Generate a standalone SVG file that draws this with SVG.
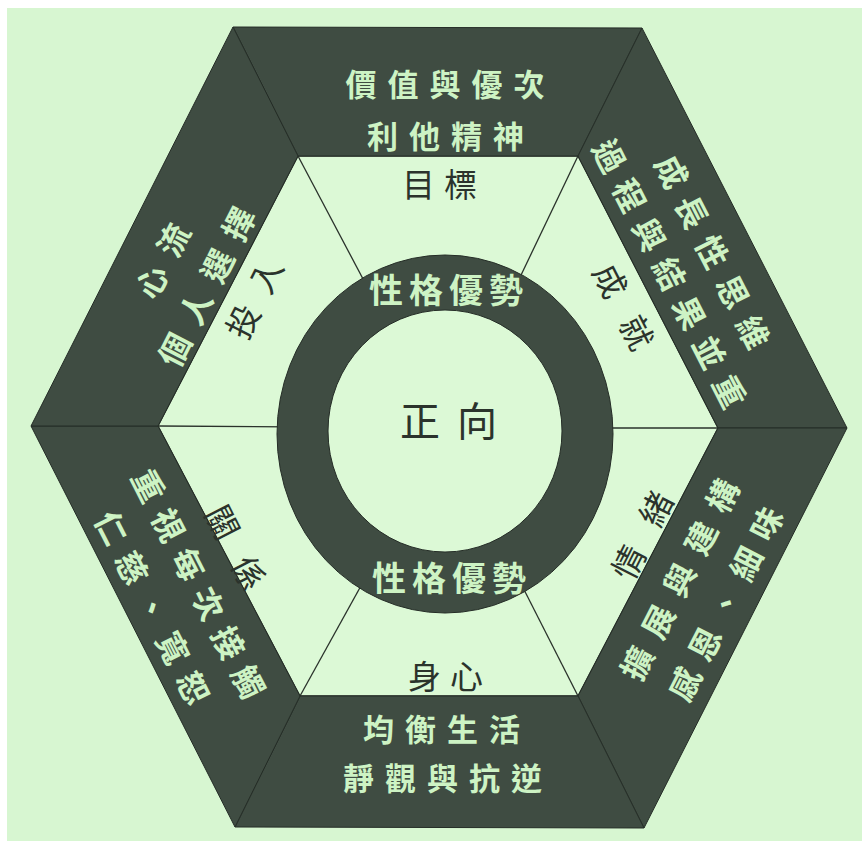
<svg xmlns="http://www.w3.org/2000/svg" width="862" height="843" viewBox="0 0 862 843">
<style>
.band{fill:#3f4c42;stroke:#252d27;stroke-width:1}
.lt{fill:#cdf3c4;font-family:"Noto Sans CJK TC","Noto Sans CJK SC",sans-serif;font-weight:700;text-anchor:middle;dominant-baseline:central}
.dk{fill:#2b332c;font-family:"Noto Sans CJK TC","Noto Sans CJK SC",sans-serif;font-weight:400;text-anchor:middle;dominant-baseline:central}
.ln{stroke:#2a322b;stroke-width:1.3;fill:none}
</style>
<rect x="0" y="0" width="862" height="843" fill="#ffffff"/>
<rect x="7" y="8" width="855" height="833" fill="#d7f6d1"/>
<polygon id="inner-hex" points="298,156 578,156 718,428 578,696 300,696 158,426" fill="#dcf9d6" stroke="#2a322b" stroke-width="1.3"/>
<g id="connectors">
<line class="ln" x1="298" y1="156" x2="445" y2="434"/>
<line class="ln" x1="578" y1="156" x2="445" y2="434"/>
<line class="ln" x1="718" y1="428" x2="445" y2="428"/>
<line class="ln" x1="578" y1="696" x2="445" y2="434"/>
<line class="ln" x1="300" y1="696" x2="445" y2="434"/>
<line class="ln" x1="158" y1="426" x2="445" y2="428"/>
</g>
<g id="band-top">
<polygon class="band" points="233,27 642,28 578,156 298,156"/>
<text class="lt" font-size="31" letter-spacing="11" x="450.5" y="82">價值與優次</text>
<text class="lt" font-size="31" letter-spacing="11" x="451" y="134">利他精神</text>
</g>
<g id="band-top-right">
<polygon class="band" points="642,28 847,428 718,428 578,156"/>
<g transform="translate(714,251) rotate(63)"><text class="lt" font-size="32" letter-spacing="13" x="6.5" y="0">成長性思維</text></g>
<g transform="translate(671,273) rotate(63)"><text class="lt" font-size="32" letter-spacing="12" x="6" y="0">過程與結果並重</text></g>
</g>
<g id="band-bottom-right">
<polygon class="band" points="847,428 644,828 578,696 718,428"/>
<g transform="translate(678,579) rotate(-63)"><text class="lt" font-size="32" letter-spacing="15" x="7.5" y="0">擴展與建構</text></g>
<g transform="translate(724,603) rotate(-63)"><text class="lt" font-size="32" letter-spacing="13" x="6.5" y="0">感恩、細味</text></g>
</g>
<g id="band-bottom">
<polygon class="band" points="644,828 235,827 300,696 578,696"/>
<text class="lt" font-size="31" letter-spacing="11" x="447" y="727">均衡生活</text>
<text class="lt" font-size="31" letter-spacing="11" x="448" y="776">靜觀與抗逆</text>
</g>
<g id="band-bottom-left">
<polygon class="band" points="235,827 31,426 158,426 300,696"/>
<g transform="translate(200,583) rotate(63)"><text class="lt" font-size="32" letter-spacing="12" x="6" y="0">重視每次接觸</text></g>
<g transform="translate(154,607) rotate(63)"><text class="lt" font-size="32" letter-spacing="13" x="6.5" y="0">仁慈、寬恕</text></g>
</g>
<g id="band-top-left">
<polygon class="band" points="31,426 233,27 298,156 158,426"/>
<g transform="translate(161,260) rotate(-63)"><text class="lt" font-size="32" letter-spacing="15" x="7.5" y="0">心流</text></g>
<g transform="translate(205,286) rotate(-63)"><text class="lt" font-size="32" letter-spacing="15" x="7.5" y="0">個人選擇</text></g>
</g>
<g id="label-goal"><text class="dk" font-size="33" letter-spacing="9" x="444" y="183">目標</text></g>
<g id="label-body"><text class="dk" font-size="33" letter-spacing="9" x="450" y="675">身心</text></g>
<g id="label-engage"><g transform="translate(253,298) rotate(-63)"><text class="dk" font-size="33" letter-spacing="18" x="9" y="0">投入</text></g></g>
<g id="label-achieve"><g transform="translate(625,306) rotate(63)"><text class="dk" font-size="33" letter-spacing="25" x="12.5" y="0">成就</text></g></g>
<g id="label-relation"><g transform="translate(237,547) rotate(63)"><text class="dk" font-size="33" letter-spacing="24" x="12" y="0">關係</text></g></g>
<g id="label-emotion"><g transform="translate(641,535) rotate(-63)"><text class="dk" font-size="33" letter-spacing="27" x="13.5" y="0">情緒</text></g></g>
<g id="ring">
<ellipse cx="445" cy="434" rx="168" ry="179" fill="#3f4c42" stroke="#252d27" stroke-width="1"/>
<ellipse cx="445" cy="431" rx="117" ry="121" fill="#dcf9d6" stroke="#252d27" stroke-width="1"/>
<text class="lt" font-size="34" letter-spacing="6" x="449" y="288">性格優勢</text>
<text class="lt" font-size="34" letter-spacing="6" x="452" y="576">性格優勢</text>
</g>
<g id="center"><text class="dk" font-size="40" letter-spacing="17" x="457" y="419">正向</text></g>
</svg>
